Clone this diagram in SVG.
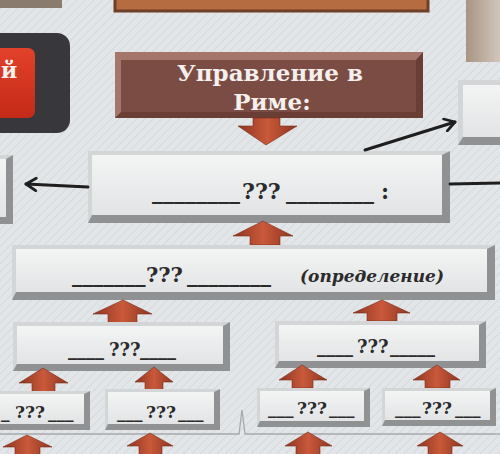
<svg xmlns="http://www.w3.org/2000/svg" width="500" height="454" viewBox="0 0 500 454">
<defs>
<pattern id="bgp" width="6" height="6" patternUnits="userSpaceOnUse" patternTransform="rotate(45)">
<rect width="6" height="6" fill="#e3e6e8"/>
<line x1="0" y1="0" x2="0" y2="6" stroke="#d6d9dc" stroke-width="2"/>
</pattern>
<linearGradient id="face" x1="0" y1="0" x2="0" y2="1">
<stop offset="0" stop-color="#f3f4f4"/>
<stop offset="1" stop-color="#e2e4e5"/>
</linearGradient>
<linearGradient id="arr" x1="0" y1="0" x2="1" y2="0">
<stop offset="0" stop-color="#8e3521"/>
<stop offset="0.5" stop-color="#c9593a"/>
<stop offset="1" stop-color="#8e3521"/>
</linearGradient>
<linearGradient id="red" x1="0" y1="0" x2="0" y2="1">
<stop offset="0" stop-color="#e2412a"/>
<stop offset="1" stop-color="#c42a18"/>
</linearGradient>
<linearGradient id="tan" x1="0" y1="0" x2="1" y2="0">
<stop offset="0" stop-color="#a89482"/>
<stop offset="1" stop-color="#d9cfc5"/>
</linearGradient>
<marker id="ah" viewBox="0 0 12 12" refX="10" refY="6" markerWidth="5" markerHeight="5" orient="auto" markerUnits="strokeWidth">
<path d="M2,1 L10,6 L2,11" fill="none" stroke="#1e1e1e" stroke-width="2.2" stroke-linecap="round" stroke-linejoin="round"/>
</marker>
</defs>
<style>
.edge{fill:#8f9193}
.lite{fill:#d3d5d6}
.face{fill:url(#face)}
.arrow{fill:url(#arr);stroke:#7a2c1a;stroke-width:0.6}
.q{font-family:"DejaVu Serif","Liberation Serif",serif;font-weight:bold;fill:#2b2b2b}
.title{font-family:"DejaVu Serif","Liberation Serif",serif;font-weight:bold;fill:#f4f0ee;font-size:23px;text-anchor:middle}
.conn{stroke:#1e1e1e;stroke-width:3;fill:none;stroke-linecap:round}
</style>
<rect width="500" height="454" fill="url(#bgp)"/>

<g id="top-left-box"><rect x="-5" y="-5" width="67" height="13" fill="#8a7b6f"/></g>
<g id="top-center-box"><rect x="115" y="-5" width="313" height="16" fill="#b56c40" stroke="#6e4029" stroke-width="3"/></g>
<g id="top-right-box"><rect x="466" y="-5" width="40" height="67" fill="url(#tan)"/></g>

<g id="left-button">
<rect x="-20" y="33" width="90" height="100" rx="13" fill="#38373c"/>
<rect x="-12" y="48" width="47" height="70" rx="7" fill="url(#red)"/>
<text x="1" y="78" class="title" style="text-anchor:start;font-size:22px">й</text>
</g>

<g id="title-box">
<rect x="115" y="52" width="308" height="66" fill="#6a3d35"/>
<polygon points="115,52 423,52 416,60 121,60 121,112 115,118" fill="#a5766c"/>
<rect x="121" y="60" width="295" height="52" fill="#7b4c43"/>
<text x="270" y="81" class="title">Управление в</text>
<text x="272" y="110" class="title">Риме:</text>
</g>

<g id="down-arrow"><polygon class="arrow" points="253,118 280,118 280,126 297,126 266,145 238,126 253,126"/></g>

<g id="main-box">
<rect x="88" y="151" width="362" height="72" class="edge"/>
<polygon points="88,151 450,151 442,155 92,155 92,215 88,223" class="lite"/>
<rect x="92" y="155" width="350" height="60" class="face"/>
<text class="q" y="199" style="font-size:22px"><tspan x="152">________</tspan><tspan x="242">???</tspan><tspan x="286">________</tspan><tspan x="381">:</tspan></text>
</g>

<g id="right-box">
<rect x="458" y="80" width="52" height="65" class="edge"/>
<polygon points="458,80 510,80 510,85 463,85 463,137 458,145" class="lite"/>
<rect x="463" y="85" width="47" height="52" class="face"/>
</g>

<g id="left-box">
<rect x="-20" y="155" width="33" height="69" class="edge"/>
<polygon points="-20,155 13,155 6,159 -20,159" class="lite"/>
<rect x="-20" y="159" width="26" height="58" class="face"/>
</g>

<g id="connectors">
<line x1="365" y1="150" x2="455" y2="122" class="conn" marker-end="url(#ah)"/>
<line x1="88" y1="187" x2="26" y2="184" class="conn" marker-end="url(#ah)"/>
<line x1="450" y1="184" x2="505" y2="183" class="conn"/>
<path d="M-5,434 L239,434 L242,410 L245,434 L505,434" fill="none" stroke="#a7a9ab" stroke-width="1.3"/>
</g>

<g id="up-arrow-1"><polygon class="arrow" points="263,221 293,236 280,236 280,245 250,245 250,236 233,236"/></g>

<g id="definition-box">
<rect x="12" y="245" width="483" height="55" class="edge"/>
<polygon points="12,245 495,245 487,249 16,249 16,292 12,300" class="lite"/>
<rect x="16" y="249" width="471" height="43" class="face"/>
<text class="q" y="282" style="font-size:21px"><tspan x="72">_______</tspan><tspan x="146">???</tspan><tspan x="187">________</tspan><tspan x="300" style="font-style:italic;font-size:17px">(определение)</tspan></text>
</g>

<g id="up-arrow-2"><polygon class="arrow" points="123,300 152,314 137,314 137,323 108,323 108,314 93,314"/></g>
<g id="up-arrow-3"><polygon class="arrow" points="382,300 410,313 397,313 397,321 367,321 367,313 353,313"/></g>

<g id="mid-left-box">
<rect x="13" y="322" width="217" height="49" class="edge"/>
<polygon points="13,322 230,322 223,326 17,326 17,364 13,371" class="lite"/>
<rect x="17" y="326" width="206" height="38" class="face"/>
<text class="q" y="356" style="font-size:18px"><tspan x="68">____</tspan><tspan x="109">???</tspan><tspan x="140">____</tspan></text>
</g>

<g id="mid-right-box">
<rect x="275" y="321" width="211" height="47" class="edge"/>
<polygon points="275,321 486,321 479,325 279,325 279,361 275,368" class="lite"/>
<rect x="279" y="325" width="200" height="36" class="face"/>
<text class="q" y="353" style="font-size:18px"><tspan x="317">____</tspan><tspan x="357">???</tspan><tspan x="390">_____</tspan></text>
</g>

<g id="up-arrow-4"><polygon class="arrow" points="43,368 68,383 55,383 55,392 32,392 32,383 19,383"/></g>
<g id="up-arrow-5"><polygon class="arrow" points="154,367 173,382 163,382 163,390 145,390 145,382 135,382"/></g>
<g id="up-arrow-6"><polygon class="arrow" points="302,365 327,380 313,380 313,388 292,388 292,380 279,380"/></g>
<g id="up-arrow-7"><polygon class="arrow" points="437,365 460,380 450,380 450,388 425,388 425,380 413,380"/></g>

<g id="bottom-box-1">
<rect x="-10" y="391" width="100" height="39" class="edge"/>
<polygon points="-10,391 90,391 84,394 -6,394 -6,424 -10,430" class="lite"/>
<rect x="-6" y="394" width="90" height="30" class="face"/>
<text class="q" y="418" style="font-size:17px"><tspan x="1">_</tspan><tspan x="15">???</tspan><tspan x="48">___</tspan></text>
</g>
<g id="bottom-box-2">
<rect x="105" y="389" width="115" height="41" class="edge"/>
<polygon points="105,389 220,389 214,392 108,392 108,424 105,430" class="lite"/>
<rect x="108" y="392" width="106" height="32" class="face"/>
<text class="q" y="418" style="font-size:17px"><tspan x="117">___</tspan><tspan x="146">???</tspan><tspan x="178">___</tspan></text>
</g>
<g id="bottom-box-3">
<rect x="257" y="388" width="113" height="39" class="edge"/>
<polygon points="257,388 370,388 364,391 260,391 260,421 257,427" class="lite"/>
<rect x="260" y="391" width="104" height="30" class="face"/>
<text class="q" y="414" style="font-size:17px"><tspan x="268">___</tspan><tspan x="297">???</tspan><tspan x="329">___</tspan></text>
</g>
<g id="bottom-box-4">
<rect x="382" y="388" width="114" height="38" class="edge"/>
<polygon points="382,388 496,388 490,391 385,391 385,420 382,426" class="lite"/>
<rect x="385" y="391" width="105" height="29" class="face"/>
<text class="q" y="414" style="font-size:17px"><tspan x="395">___</tspan><tspan x="422">???</tspan><tspan x="455">___</tspan></text>
</g>

<g id="up-arrow-8"><polygon class="arrow" points="27,435 52,447 40,447 40,456 15,456 15,447 3,447"/></g>
<g id="up-arrow-9"><polygon class="arrow" points="150,433 173,446 162,446 162,456 139,456 139,446 127,446"/></g>
<g id="up-arrow-10"><polygon class="arrow" points="308,432 332,446 320,446 320,456 296,456 296,446 285,446"/></g>
<g id="up-arrow-11"><polygon class="arrow" points="440,432 463,446 452,446 452,456 428,456 428,446 417,446"/></g>
</svg>
